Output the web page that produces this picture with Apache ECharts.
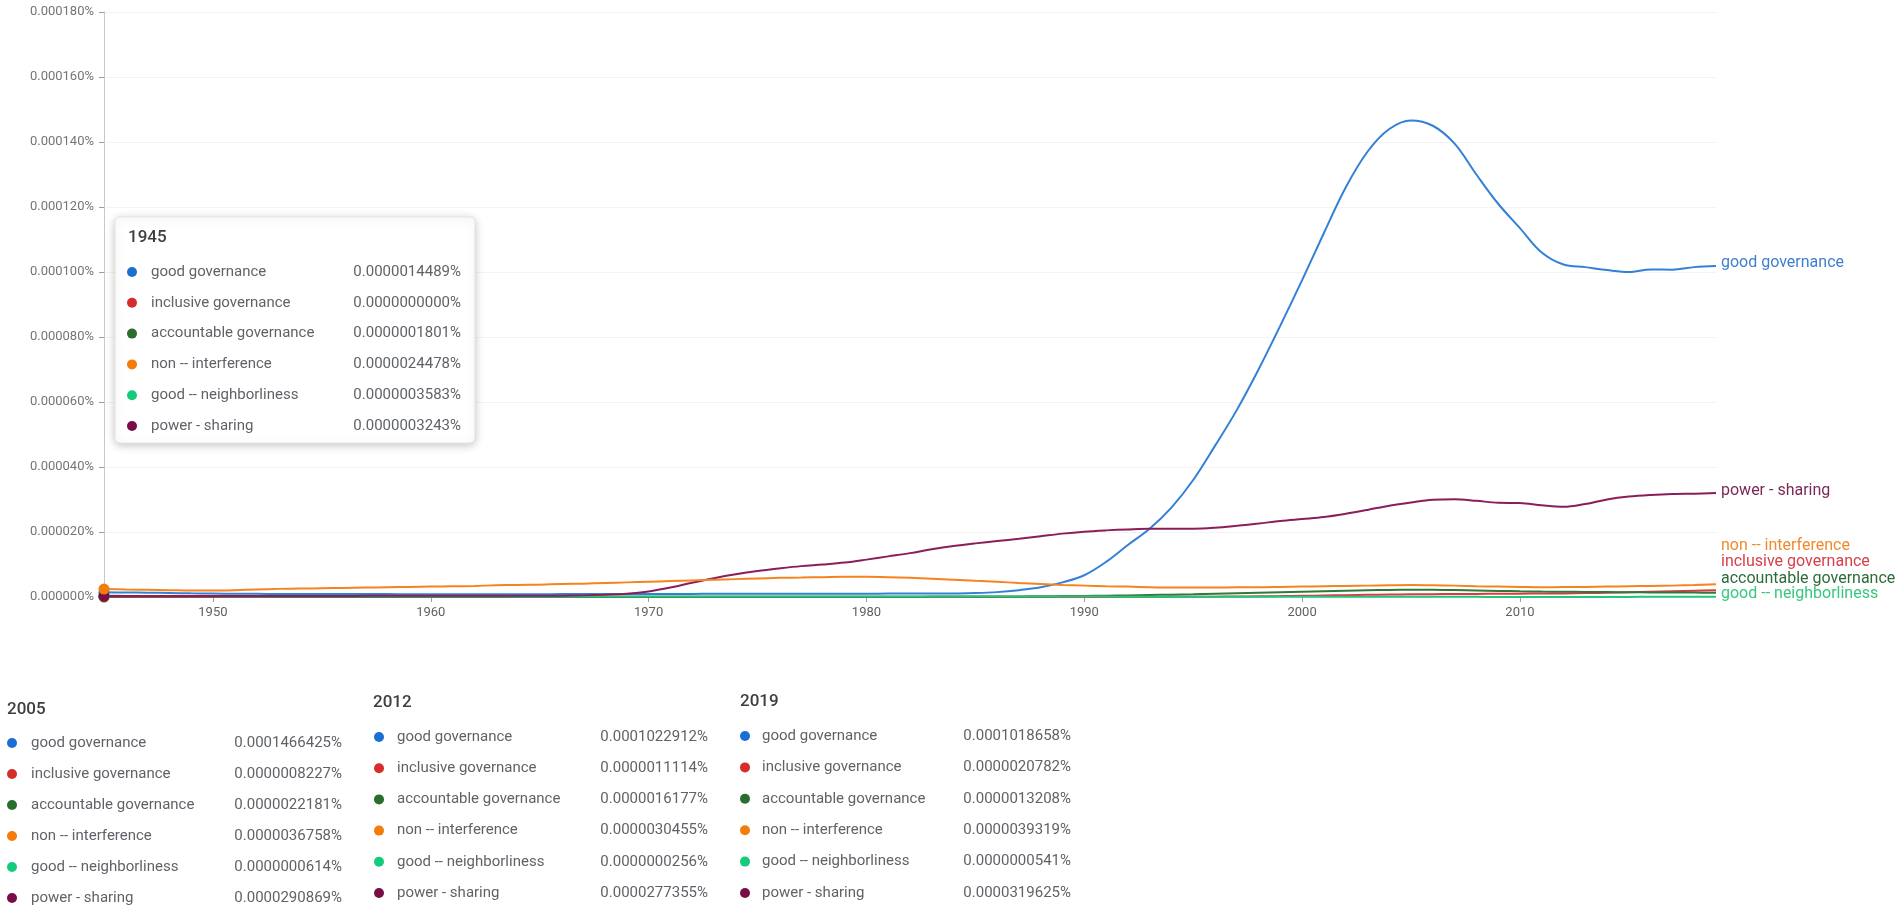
<!DOCTYPE html>
<html><head><meta charset="utf-8">
<script src="https://cdn.jsdelivr.net/npm/echarts@6/dist/echarts.min.js"></script>
<style>html,body{margin:0;padding:0;background:#fff}#c{width:1902px;height:919px}</style>
</head><body><div id="c"></div><script>
// values in units of 0.000001 %
const years = Array.from({length: 75}, (_, i) => String(1945 + i));
const seriesNames = ['good governance', 'inclusive governance', 'accountable governance', 'non -- interference', 'good -- neighborliness', 'power - sharing'];
const goodGovernance = [
1.4489,1.40,1.32,1.22,1.12,1.05,1.00,0.97,0.95,0.93,
0.92,0.90,0.90,0.89,0.88,0.88,0.87,0.87,0.87,0.88,
0.88,0.89,0.90,0.91,0.92,0.93,0.95,0.96,0.97,0.98,
0.99,1.00,1.00,1.01,1.02,1.03,1.04,1.05,1.07,1.10,
1.2,1.5,2.1,3.0,4.5,6.7,10.8,16.0,21.0,27.5,
36.0,46.5,57.5,70.0,83.5,97.5,112.0,126.0,137.0,144.0,
146.6425,145.0,139.5,130.0,121.0,113.5,106.0,102.2912,101.5,100.6,
100.0,100.8,100.7,101.5,101.8658];
const inclusiveGovernance = [
0,0,0,0,0,0,0,0,0,0,
0,0,0,0,0,0,0,0,0,0,
0,0,0,0,0,0,0,0,0,0,
0,0,0,0,0,0.01,0.01,0.01,0.01,0.01,
0.01,0.01,0.01,0.01,0.01,0.02,0.02,0.03,0.03,0.04,
0.06,0.10,0.15,0.21,0.28,0.37,0.46,0.56,0.66,0.75,
0.8227,0.87,0.91,0.95,0.99,1.03,1.07,1.1114,1.20,1.33,
1.48,1.63,1.78,1.93,2.0782];
const accountableGovernance = [
0.1801,0.17,0.16,0.15,0.14,0.13,0.12,0.12,0.11,0.11,
0.11,0.10,0.10,0.10,0.10,0.10,0.10,0.10,0.10,0.10,
0.10,0.10,0.10,0.10,0.10,0.10,0.10,0.10,0.10,0.10,
0.10,0.10,0.10,0.10,0.10,0.10,0.11,0.11,0.12,0.13,
0.14,0.15,0.18,0.22,0.27,0.33,0.40,0.49,0.60,0.73,
0.87,1.02,1.17,1.32,1.47,1.62,1.77,1.92,2.06,2.17,
2.2181,2.20,2.12,2.00,1.88,1.77,1.68,1.6177,1.56,1.51,
1.46,1.42,1.38,1.35,1.3208];
const nonInterference = [
2.4478,2.3,2.2,2.1,2.0,2.0,2.1,2.3,2.5,2.6,
2.7,2.8,2.9,3.0,3.1,3.2,3.3,3.4,3.6,3.7,
3.8,4.0,4.1,4.3,4.5,4.7,4.9,5.1,5.3,5.5,
5.7,5.9,6.0,6.1,6.2,6.2,6.1,5.9,5.6,5.3,
5.0,4.7,4.3,4.0,3.7,3.5,3.3,3.2,3.0,2.9,
2.9,2.9,3.0,3.0,3.1,3.2,3.3,3.4,3.5,3.6,
3.6758,3.6,3.5,3.3,3.2,3.1,3.0,3.0455,3.1,3.2,
3.3,3.4,3.5,3.7,3.9319];
const goodNeighborliness = [
0.3583,0.34,0.32,0.30,0.28,0.27,0.26,0.25,0.24,0.23,
0.23,0.22,0.22,0.21,0.21,0.20,0.20,0.20,0.20,0.19,
0.19,0.19,0.19,0.18,0.18,0.18,0.18,0.17,0.17,0.17,
0.17,0.16,0.16,0.16,0.15,0.15,0.15,0.15,0.14,0.14,
0.14,0.13,0.13,0.13,0.12,0.12,0.12,0.11,0.11,0.10,
0.10,0.09,0.09,0.08,0.08,0.09,0.08,0.07,0.065,0.063,
0.0614,0.055,0.048,0.040,0.035,0.030,0.027,0.0256,0.028,0.032,
0.037,0.042,0.046,0.050,0.0541];
const powerSharing = [
0.3243,0.32,0.32,0.31,0.31,0.31,0.32,0.32,0.33,0.33,
0.34,0.34,0.35,0.35,0.36,0.36,0.37,0.37,0.38,0.39,
0.40,0.42,0.5,0.7,1.0,1.7,2.9,4.4,5.8,7.0,
8.0,8.8,9.5,10.0,10.6,11.5,12.5,13.5,14.7,15.7,
16.5,17.2,17.9,18.7,19.5,20.1,20.5,20.8,21.0,21.0,
21.0,21.3,21.9,22.6,23.4,24.0,24.6,25.6,26.8,28.1,
29.0869,29.9,30.1,29.6,29.0,28.9,28.2,27.7355,28.6,30.0,
30.9,31.4,31.7,31.8,31.9625];
const allSeries = [goodGovernance, inclusiveGovernance, accountableGovernance, nonInterference, goodNeighborliness, powerSharing];
const tableYears = ['1945', '2005', '2012', '2019'];

const lineColors = ['#3381d6', '#dd3a3f', '#2e7a3a', '#f5841f', '#22c77c', '#8b1e5a'];
const dotColors = ['#1b6fd2', '#d52c2c', '#2a6e2e', '#f47c0a', '#14cb7b', '#7a0c47'];
const labelColors = ['#3f7fcf', '#d6404b', '#2e6b3a', '#f08a2c', '#37c77f', '#7b2a57'];
const endOffsets = [[0,-3],[0,-28],[0,-14],[0,-38],[0,-3],[0,-2]];

function fmt(v) {
  const n = Math.round(v * 10000);
  return '0.' + String(n).padStart(10, '0') + '%';
}

const FONT = 'Roboto, "Noto Sans", sans-serif';
const TZ = 100;

function buildTable(yearIdx, x0, titleY, rowY0, rowGap, dotX, nameX, valRight, box) {
  const idx = years.indexOf(yearIdx);
  const children = [];
  if (box) {
    children.push({type: 'rect', z: TZ, shape: {x: box[0], y: box[1], width: box[2], height: box[3], r: 5},
      style: {fill: '#fff', stroke: '#e4e4e4', lineWidth: 1, shadowBlur: 8, shadowColor: 'rgba(0,0,0,0.22)', shadowOffsetY: 2}});
  }
  children.push({type: 'text', z: TZ + 1, style: {text: yearIdx, x: x0, y: titleY, font: '500 17px ' + FONT, fill: '#3c4043', verticalAlign: 'middle', textVerticalAlign: 'middle'}});
  seriesNames.forEach((nm, i) => {
    const y = rowY0 + i * rowGap;
    children.push({type: 'circle', z: TZ + 1, shape: {cx: dotX, cy: y, r: 5}, style: {fill: dotColors[i]}});
    children.push({type: 'text', z: TZ + 1, style: {text: nm, x: nameX, y: y, font: '15px ' + FONT, fill: '#5f6368', verticalAlign: 'middle', textVerticalAlign: 'middle'}});
    children.push({type: 'text', z: TZ + 1, style: {text: fmt(allSeries[i][idx]), x: valRight, y: y, font: '15px ' + FONT, fill: '#5f6368', align: 'right', textAlign: 'right', verticalAlign: 'middle', textVerticalAlign: 'middle'}});
  });
  return {type: 'group', z: TZ, children};
}

const chart = echarts.init(document.getElementById('c'));
chart.setOption({
  animation: false,
  backgroundColor: '#fff',
  grid: {left: 104, right: 186, top: 12, bottom: 322},
  xAxis: {
    type: 'category', data: years, boundaryGap: false,
    axisLine: {show: false},
    axisTick: {show: true, length: 5, interval: (i, v) => Number(v) % 10 === 0, lineStyle: {color: '#9e9e9e'}},
    axisLabel: {interval: (i, v) => Number(v) % 10 === 0, color: '#616161', fontSize: 13, fontFamily: FONT, margin: 9},
    splitLine: {show: false}
  },
  yAxis: {
    type: 'value', min: 0, max: 180, interval: 20,
    axisLine: {show: true, lineStyle: {color: '#bdbdbd', type: 'dotted', width: 1}},
    axisTick: {show: true, length: 5, lineStyle: {color: '#9e9e9e'}},
    axisLabel: {color: '#757575', fontSize: 13, fontFamily: FONT, margin: 10,
      formatter: v => (v / 1e6).toFixed(6) + '%'},
    splitLine: {show: true, lineStyle: {color: '#f3f3f3'}}
  },
  series: seriesNames.map((nm, i) => ({
    name: nm, type: 'line', data: allSeries[i], smooth: 0.35,
    symbol: 'circle', showAllSymbol: true,
    symbolSize: (v, p) => p.dataIndex === 0 ? 11 : 0,
    itemStyle: {color: dotColors[i]},
    lineStyle: {color: lineColors[i], width: 2},
    z: i === 3 ? 3 : 2,
    endLabel: {show: true, formatter: '{a}', color: labelColors[i], fontSize: 16, fontFamily: FONT, distance: 5, offset: endOffsets[i]},
    emphasis: {disabled: true}
  })),
  graphic: [
    buildTable('1945', 128, 238, 272, 30.8, 132, 151, 461, [115, 217, 360, 226]),
    buildTable('2005', 7, 710, 743, 31, 12, 31, 342, null),
    buildTable('2012', 373, 703, 737, 31.2, 379, 397, 708, null),
    buildTable('2019', 740, 702, 736, 31.4, 745, 762, 1071, null)
  ]
});
</script></body></html>
